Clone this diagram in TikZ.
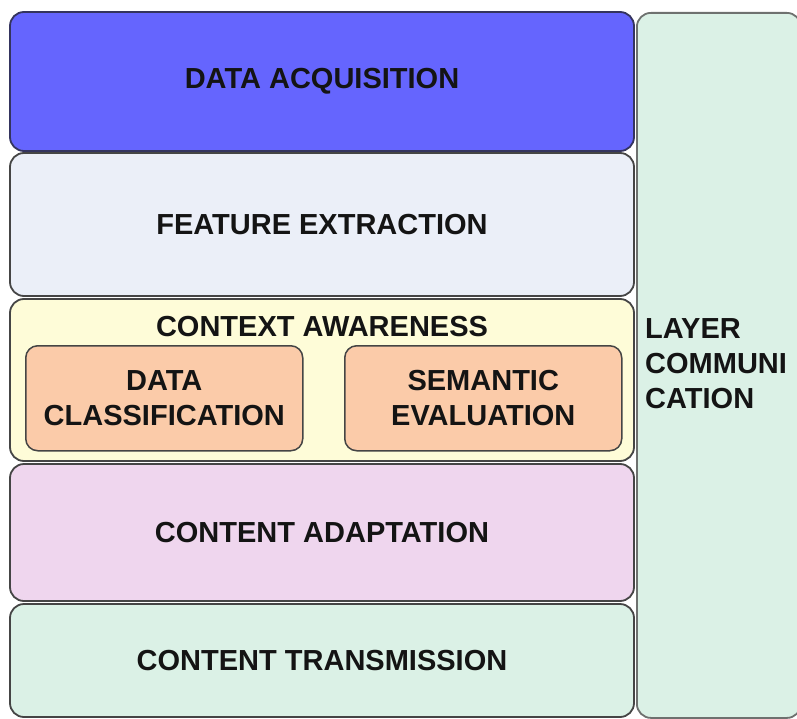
\documentclass[tikz,border=0pt]{standalone}
\usepackage{fontspec}
\setmainfont{Liberation Sans}
\definecolor{bordergray}{HTML}{454545}
\definecolor{rightborder}{HTML}{6E716F}
\definecolor{daborder}{HTML}{34345E}
\definecolor{dafill}{HTML}{6565FE}
\definecolor{fefill}{HTML}{EBEFF8}
\definecolor{cafill}{HTML}{FEFCD8}
\definecolor{peach}{HTML}{FBCBA9}
\definecolor{cadfill}{HTML}{EFD6EE}
\definecolor{ctfill}{HTML}{DBF1E6}
\definecolor{txt}{HTML}{141414}
\begin{document}
\begin{tikzpicture}[x=1pt,y=-1pt,
  layerbox/.style={draw=bordergray, line width=1.8pt, rounded corners=14pt,
    minimum width=624pt, anchor=north west, inner sep=0pt, outer sep=0pt},
  subbox/.style={draw=bordergray, line width=1.5pt, rounded corners=12pt, fill=peach,
    minimum width=277pt, minimum height=105pt, anchor=north west, inner sep=0pt,
    align=center},
  lbl/.style={font=\fontsize{29}{35}\selectfont\bfseries, text=txt, align=center}]
\useasboundingbox (0,0) rectangle (797,719);
% right side column
\node[draw=rightborder, line width=1.8pt, rounded corners=14pt, fill=ctfill,
  minimum width=164pt, minimum height=705pt, anchor=north west, inner sep=0pt] (lc) at (636,12) {};
\node[lbl, align=left, anchor=north west, inner sep=0pt] (lct) at (645,318) {LAYER\\COMMUNI\\CATION};
% layers
\node[layerbox, draw=daborder, fill=dafill, minimum height=139pt, lbl] (da) at (10,12) {DATA ACQUISITION};
\node[layerbox, fill=fefill, minimum height=143pt, lbl] (fe) at (10,153) {FEATURE EXTRACTION};
\node[layerbox, fill=cafill, minimum height=162pt] (ca) at (10,299) {};
\node[lbl, anchor=center] (cat) at (322,327) {CONTEXT AWARENESS};
\node[subbox, lbl] (dc) at (25,345) {DATA\\CLASSIFICATION};
\node[subbox, lbl] (se) at (344,345) {SEMANTIC\\EVALUATION};
\node[layerbox, fill=cadfill, minimum height=137pt, lbl] (cad) at (10,464) {CONTENT ADAPTATION};
\node[layerbox, fill=ctfill, minimum height=113pt, lbl] (ct) at (10,604) {CONTENT TRANSMISSION};
\end{tikzpicture}
\end{document}
